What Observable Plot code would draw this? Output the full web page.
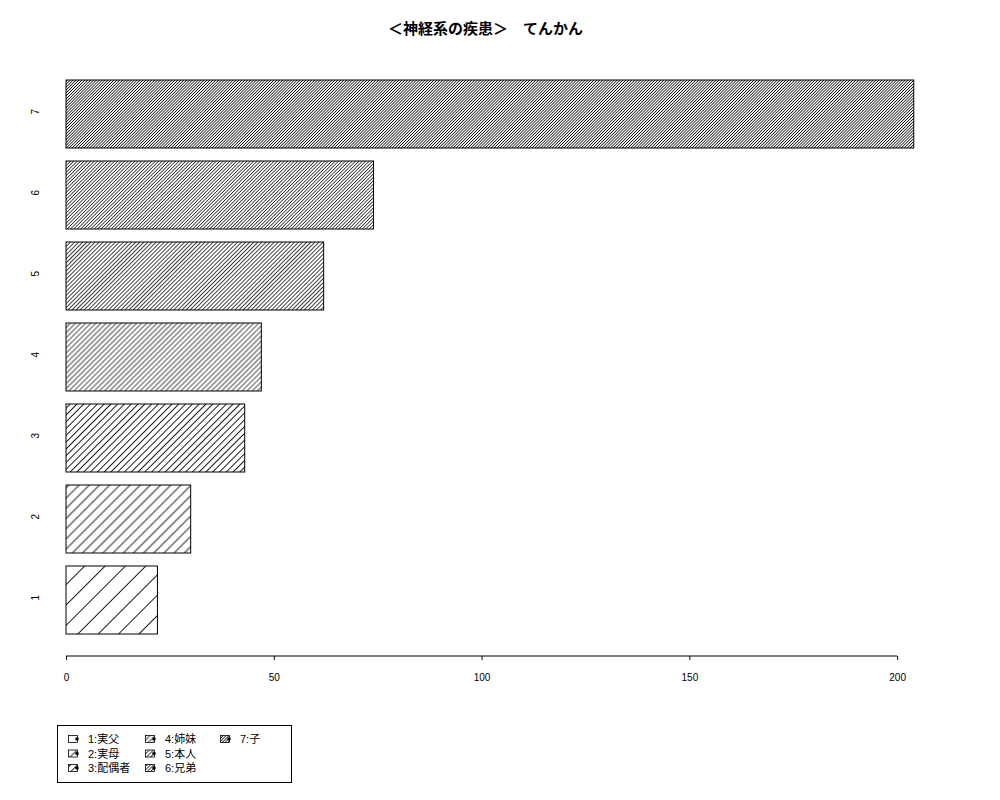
<!DOCTYPE html>
<html>
<head>
<meta charset="utf-8">
<script src="https://cdn.jsdelivr.net/npm/d3@7"></script>
<script src="https://cdn.jsdelivr.net/npm/@observablehq/plot@0.6"></script>
<style>
  html, body { margin: 0; padding: 0; background: #fff; }
  #wrap { width: 1000px; height: 800px; position: relative; overflow: hidden; }
  #title { position: absolute; left: 23px; width: 925px; top: 19px; height: 18px; line-height: 18px;
    text-align: center; font-family: "Noto Sans CJK JP", "Liberation Sans", sans-serif; font-weight: bold; font-size: 15px; color: #000; white-space: pre; }
  #chart { position: absolute; left: 0; top: 50px; }
  #legend { position: absolute; left: 0; top: 710px; }
</style>
</head>
<body>
<div id="wrap">
  <div id="title"></div>
  <div id="chart"></div>
  <div id="legend"></div>
</div>
<script>
const titleText = "＜神経系の疾患＞　てんかん";
const categories = ["1", "2", "3", "4", "5", "6", "7"];
const values = [22, 30, 43, 47, 62, 74, 204];
const densities = [5, 10, 15, 20, 25, 30, 35];
const legendLabels = ["1:実父", "2:実母", "3:配偶者", "4:姉妹", "5:本人", "6:兄弟", "7:子"];
const xTicks = [0, 50, 100, 150, 200];

document.getElementById("title").textContent = titleText;

const data = categories.map((c, i) => ({cat: c, value: values[i], density: densities[i], label: legendLabels[i]}));

const axisLine = (index, scales, channels, dimensions) => {
  const y = dimensions.height - dimensions.marginBottom;
  return d3.create("svg:line")
    .attr("x1", scales.x(d3.min(xTicks))).attr("x2", scales.x(d3.max(xTicks)))
    .attr("y1", y).attr("y2", y)
    .attr("stroke", "#000").attr("stroke-width", 1).node();
};

const chart = Plot.plot({
  width: 1000,
  height: 660,
  marginTop: 6,
  marginBottom: 54,
  marginLeft: 23.3,
  marginRight: 52,
  style: {fontFamily: "'Liberation Sans', Arial, sans-serif", fontSize: "10px", color: "#000", background: "#fff"},
  x: {domain: [-10.28, 212.24], axis: null},
  y: {domain: categories.slice().reverse(), range: [29, 584], paddingInner: 0.2 / 1.2, paddingOuter: 0, axis: null},
  color: {type: "identity"},
  marks: [
    Plot.barX(data, {x: "value", y: "cat", fill: d => `url(#hatch${d.cat})`, stroke: "#000", strokeWidth: 1}),
    Plot.text(data, {y: "cat", text: "cat", frameAnchor: "left", dx: 12, rotate: -90, fontSize: 10, fill: "#000"}),
    Plot.axisX({ticks: xTicks, tickSize: 4, tickPadding: 13.5, fontSize: 10, label: null}),
    axisLine
  ]
});
document.getElementById("chart").appendChild(chart);

// hatch patterns (lines per inch at 72 px/in, 45 degrees)
const defs = d3.select(chart).insert("defs", ":first-child");
data.forEach(d => {
  const s = 72 / d.density;
  const p = defs.append("pattern")
    .attr("id", `hatch${d.cat}`)
    .attr("patternUnits", "userSpaceOnUse")
    .attr("width", s).attr("height", 10)
    .attr("patternTransform", "rotate(45)");
  p.append("rect").attr("width", s).attr("height", 10).attr("fill", "#fff");
  p.append("line").attr("x1", s / 2).attr("x2", s / 2).attr("y1", 0).attr("y2", 10)
    .attr("stroke", "#000").attr("stroke-width", d.density > 15 ? 0.75 : 0.9);
});

// legend
const lg = d3.select("#legend").append("svg").attr("width", 1000).attr("height", 90)
  .style("font-family", "'Liberation Sans', 'Noto Sans CJK JP', sans-serif").style("font-size", "11px");
lg.append("rect").attr("x", 57.5).attr("y", 15.5).attr("width", 234).attr("height", 57)
  .attr("fill", "none").attr("stroke", "#000").attr("stroke-width", 1);
const colX = [68, 145, 220];
const rowY = [29, 43.5, 58];
data.forEach((d, i) => {
  const cx = colX[Math.floor(i / 3)], cy = rowY[i % 3];
  lg.append("rect").attr("x", cx + 0.5).attr("y", cy - 3.5).attr("width", 9).attr("height", 7)
    .attr("fill", `url(#hatch${d.cat})`).attr("stroke", "#000").attr("stroke-width", 0.8);
  lg.append("circle").attr("cx", cx + 9).attr("cy", cy).attr("r", 1.8).attr("fill", "#000");
  lg.append("text").attr("x", cx + 20).attr("y", cy).attr("dominant-baseline", "central").text(d.label);
});
</script>
</body>
</html>
